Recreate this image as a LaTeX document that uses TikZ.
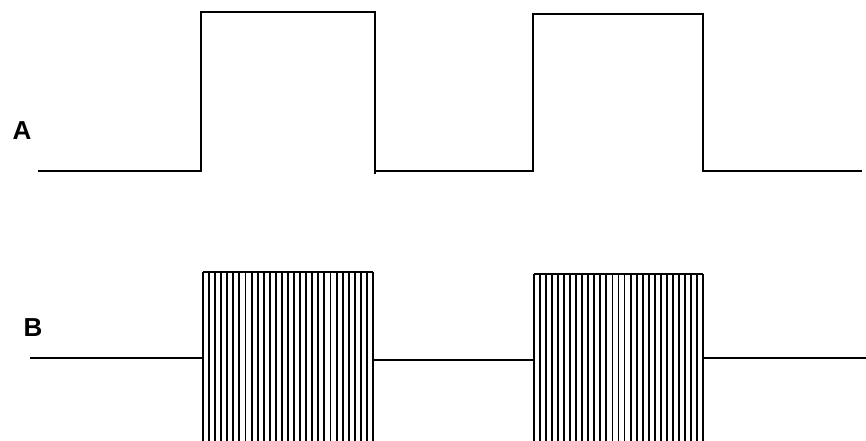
\documentclass[tikz,border=0pt]{standalone}
\usepackage{fontspec}
\setmainfont{Liberation Sans}
\begin{document}
\begin{tikzpicture}[x=1pt,y=-1pt,
                    wave/.style={line width=1.5pt},
                    hatch/.style={line width=1.9pt},
                    label/.style={font=\bfseries\fontsize{26}{28}\selectfont, inner sep=0pt}
                    ]
                    \useasboundingbox (0,0) rectangle (866,441);

                    % labels
                    \node[label] (labA) at (22,131) {A};
                    \node[label] (labB) at (33,328) {B};

                    % signal A
                    \draw[wave] (38,171) -- (201,171) -- (201,12) -- (375,12) -- (375,174);
                    \draw[wave] (375,171) -- (533,171) -- (533,14) -- (703,14) -- (703,171) -- (862,171);
                    \draw[line width=2.6pt] (808,171) -- (826,171);

                    % signal B
                    \draw[wave] (30,358) -- (203,358);
                    \draw[wave] (373,360) -- (534,360);
                    \draw[wave] (703,358) -- (866,358);
                    \foreach \a/\b/\t in {203/373/272,534/703/274}{
                        \draw[wave] (\a,\t) -- (\b,\t);
                        \foreach \k in {0,...,28}{
                            \draw[hatch] ({\a+(\b-\a)*\k/28},\t) -- ({\a+(\b-\a)*\k/28},441);
                        }
                    }
                \end{tikzpicture}
\end{document}
